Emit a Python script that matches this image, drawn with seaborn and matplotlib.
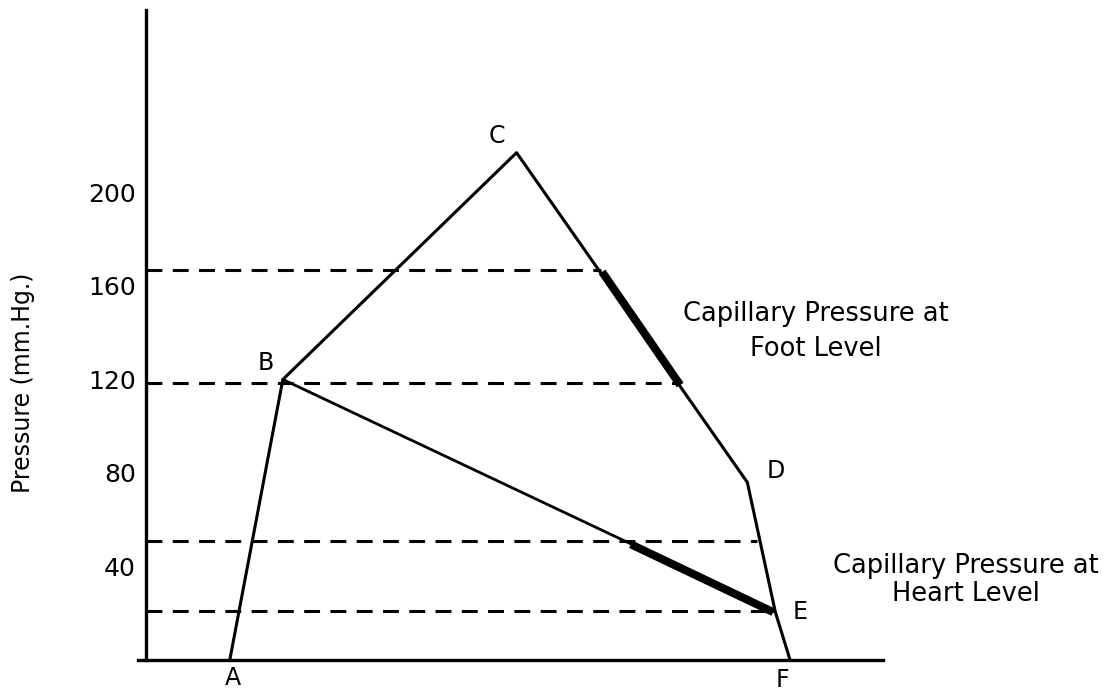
import numpy as np
import pandas as pd
import matplotlib
matplotlib.use('Agg')
import matplotlib.pyplot as plt
import seaborn as sns

# Outline of the pressure diagram (points A..F), schematic x units
point_names = ['A', 'B', 'C', 'D', 'E', 'F']
point_x = [11.4, 18.6, 50.3, 81.6, 85.4, 87.4]
point_y = [0, 120, 217, 76, 20.5, 0]

# extra leg from B straight to E
be_x = [18.6, 85.4]
be_y = [120, 20.5]

# dashed reference levels and where they stop
level_y = [167, 118.5, 51, 21]
level_end = [61.7, 72.2, 82.9, 84.7]

# heavy segments (capillary pressure ranges)
foot_x = [61.9, 72.5]
foot_y = [166, 117.6]
heart_x = [65.8, 85.1]
heart_y = [49.5, 20.5]

ytick_vals = [40, 80, 120, 160, 200]
ytick_labels = ['40', '80', '120', '160', '200']

sns.set_style('white')
plt.rcParams['font.family'] = ['DejaVu Sans']
plt.rcParams['text.color'] = 'black'
plt.rcParams['ytick.color'] = 'black'

fig = plt.figure(figsize=(11.17, 6.98), dpi=100)
ax = fig.add_axes([0.1232, 0.0544, 0.6673, 0.9312])

outline = pd.DataFrame({'x': point_x, 'y': point_y})
sns.lineplot(x='x', y='y', data=outline, sort=False, estimator=None,
             color='black', linewidth=2.2, ax=ax)
sns.lineplot(x=be_x, y=be_y, sort=False, estimator=None,
             color='black', linewidth=2.0, ax=ax)

# dashed levels
for yv, xe in zip(level_y, level_end):
    ax.plot([0, xe], [yv, yv], color='black', linewidth=2.2,
            dashes=(5.2, 3.4), solid_capstyle='butt')

# heavy segments
ax.plot(foot_x, foot_y, color='black', linewidth=5.8, solid_capstyle='butt')
ax.plot(heart_x, heart_y, color='black', linewidth=5.8, solid_capstyle='butt')

# point letters
label_pos = {'A': (11.8, -7.7), 'B': (16.3, 127), 'C': (47.6, 224),
             'D': (85.4, 81), 'E': (88.8, 20.5), 'F': (86.4, -8.5)}
for name in point_names:
    lx, ly = label_pos[name]
    ax.text(lx, ly, name, fontsize=17, ha='center', va='center',
            color='black', clip_on=False)

ax.text(90.9, 140.7, 'Capillary Pressure at\nFoot Level', fontsize=18.5,
        ha='center', va='center', linespacing=1.45, color='black', clip_on=False)
ax.text(111.2, 34.2, 'Capillary Pressure at\nHeart Level', fontsize=18.5,
        ha='center', va='center', linespacing=1.1, color='black', clip_on=False)

ax.set_xlim(-1.1, 100)
ax.set_ylim(0, 278)
ax.spines['top'].set_visible(False)
ax.spines['right'].set_visible(False)
ax.spines['left'].set_position(('data', 0))
for s in ['left', 'bottom']:
    ax.spines[s].set_linewidth(2.4)
    ax.spines[s].set_color('black')

ax.set_xticks([])
ax.set_yticks(ytick_vals)
ax.set_yticklabels(ytick_labels)
ax.tick_params(axis='y', length=0, pad=7, labelsize=18, labelcolor='black')
ax.set_xlabel('')
ax.set_ylabel('')
fig.text(23 / 1117, 1 - 383 / 698, 'Pressure (mm.Hg.)', rotation=90,
         fontsize=17, ha='center', va='center', color='black')

fig.savefig('out.png', dpi=100)
